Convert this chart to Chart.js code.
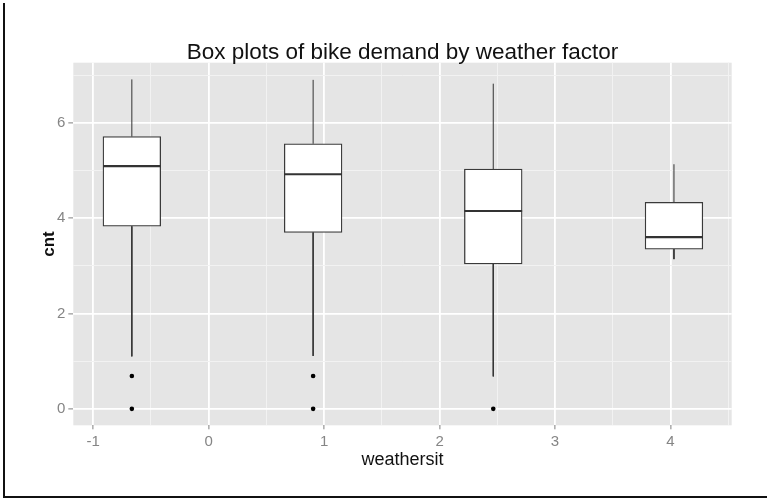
<!DOCTYPE html>
<html>
<head>
<meta charset="utf-8">
<script src="https://cdn.jsdelivr.net/npm/chart.js@4.4.1/dist/chart.umd.min.js"></script>
<style>
  html, body { margin: 0; padding: 0; background: #fff; }
  #wrap { position: relative; width: 767px; height: 498px; }
  #frame { position: absolute; left: 3px; top: 3px; width: 762px; height: 493px;
           border-left: 2px solid #111; border-bottom: 2px solid #111; pointer-events: none; }
</style>
</head>
<body>
<div id="wrap">
  <canvas id="boxChart" width="767" height="498"></canvas>
  <div id="frame"></div>
</div>
<script>
// valori (log del conteggio)
const groups = [-0.665, 0.905, 2.465, 4.03];   // posizione dei box su weathersit
const whiskerLow = [1.10, 1.11, 0.68, 3.14];
const q1 = [3.83, 3.70, 3.04, 3.35];
const median = [5.09, 4.92, 4.15, 3.60];
const q3 = [5.71, 5.56, 5.03, 4.33];
const whiskerHigh = [6.91, 6.90, 6.82, 5.13];
const outlierX = [-0.665, -0.665, 0.905, 0.905, 2.465];
const outlierY = [0.69, 0, 0.69, 0, 0];

const xTicks = [-1, 0, 1, 2, 3, 4];
const xMinor = [-0.5, 0.5, 1.5, 2.5, 3.5, 4.5];
const yTicks = [0, 2, 4, 6];
const yMinor = [1, 3, 5, 7];
const xRange = [-1.172, 4.53];
const yRange = [-0.345, 7.26];
const boxWidth = 0.5;

const font = "'Liberation Sans', Arial, sans-serif";

// segmenti dei baffi e delle mediane
const whiskers = [];
const medians = [];
groups.forEach((x, i) => {
    whiskers.push({x: x, y: q3[i]}, {x: x, y: whiskerHigh[i]}, {x: x, y: null});
    whiskers.push({x: x, y: q1[i]}, {x: x, y: whiskerLow[i]}, {x: x, y: null});
    medians.push({x: x - boxWidth / 2, y: median[i]}, {x: x + boxWidth / 2, y: median[i]}, {x: x, y: null});
});

function setTicks(major, minor) {
    return scale => {
        scale.ticks = major.concat(minor).sort((a, b) => a - b).map(v => ({value: v}));
    };
}
const isMajor = list => ctx => list.includes(ctx.tick.value);

// sfondo grigio del pannello e titolo
const panel = {
    id: 'panel',
    beforeDraw(chart) {
        const {ctx, chartArea: a} = chart;
        ctx.save();
        ctx.fillStyle = '#e5e5e5';
        ctx.fillRect(a.left, a.top, a.right - a.left, a.bottom - a.top);
        ctx.restore();
    },
    afterDraw(chart) {
        const {ctx, chartArea: a} = chart;
        ctx.save();
        ctx.fillStyle = '#111';
        ctx.font = '22.5px ' + font;
        ctx.textAlign = 'center';
        ctx.textBaseline = 'alphabetic';
        ctx.fillText('Box plots of bike demand by weather factor', (a.left + a.right) / 2, 59);
        ctx.restore();
    }
};

const ctx = document.getElementById('boxChart').getContext('2d');
const boxChart = new Chart(ctx, {
    type: 'bar',
    data: {
        datasets: [
            {
                type: 'line',
                data: whiskers,
                borderColor: '#333',
                borderWidth: 1,
                pointRadius: 0,
                spanGaps: false,
                order: 3
            },
            {
                type: 'bar',
                data: groups.map((x, i) => ({x: x, y: [q1[i], q3[i]]})),
                backgroundColor: '#fff',
                borderColor: '#3a3a3a',
                borderWidth: 1.3,
                borderSkipped: false,
                barPercentage: 1,
                categoryPercentage: 1,
                order: 2
            },
            {
                type: 'line',
                data: medians,
                borderColor: '#333',
                borderWidth: 2.2,
                pointRadius: 0,
                spanGaps: false,
                order: 1
            },
            {
                type: 'scatter',
                data: outlierX.map((x, i) => ({x: x, y: outlierY[i]})),
                backgroundColor: '#000',
                borderWidth: 0,
                pointRadius: 2.3,
                order: 0
            }
        ]
    },
    options: {
        responsive: false,
        animation: false,
        events: [],
        layout: { padding: { top: 62.7, right: 35.3, left: 0, bottom: 0 } },
        plugins: { legend: { display: false }, tooltip: { enabled: false }, title: { display: false } },
        scales: {
            x: {
                type: 'linear',
                min: xRange[0],
                max: xRange[1],
                offset: false,
                afterBuildTicks: setTicks(xTicks, xMinor),
                afterFit: s => { s.height = 72.7; },
                border: { display: false },
                grid: {
                    offset: false,
                    color: c => isMajor(xTicks)(c) ? '#ffffff' : '#f2f2f2',
                    lineWidth: c => isMajor(xTicks)(c) ? 1.8 : 1,
                    tickColor: c => isMajor(xTicks)(c) ? '#7f7f7f' : 'rgba(0,0,0,0)',
                    tickLength: 4,
                    tickWidth: 1
                },
                ticks: {
                    autoSkip: false,
                    maxRotation: 0,
                    padding: 4,
                    color: '#858585',
                    font: { family: font, size: 15 },
                    callback: v => xTicks.includes(v) ? String(v) : ''
                },
                title: {
                    display: true,
                    text: 'weathersit',
                    color: '#111',
                    font: { family: font, size: 18 },
                    padding: { top: 0, bottom: 27 }
                }
            },
            y: {
                type: 'linear',
                min: yRange[0],
                max: yRange[1],
                afterBuildTicks: setTicks(yTicks, yMinor),
                afterFit: s => { s.width = 73.3; },
                border: { display: false },
                grid: {
                    color: c => isMajor(yTicks)(c) ? '#ffffff' : '#f2f2f2',
                    lineWidth: c => isMajor(yTicks)(c) ? 1.8 : 1,
                    tickColor: c => isMajor(yTicks)(c) ? '#7f7f7f' : 'rgba(0,0,0,0)',
                    tickLength: 5,
                    tickWidth: 1
                },
                ticks: {
                    autoSkip: false,
                    padding: 3,
                    color: '#858585',
                    font: { family: font, size: 15 },
                    callback: v => yTicks.includes(v) ? String(v) : ''
                },
                title: {
                    display: true,
                    text: 'cnt',
                    color: '#111',
                    font: { family: font, size: 17, weight: 'bold' },
                    padding: { top: 39, bottom: 0 }
                }
            }
        }
    },
    plugins: [panel]
});
</script>
</body>
</html>
